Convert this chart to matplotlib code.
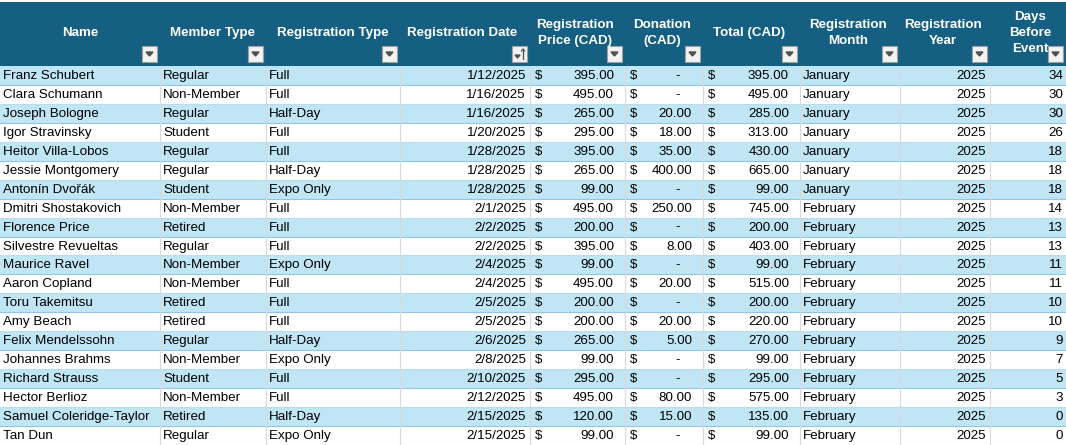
import matplotlib
matplotlib.use("Agg")
import matplotlib.pyplot as plt
from matplotlib.patches import Rectangle, Polygon

names = ["Franz Schubert","Clara Schumann","Joseph Bologne","Igor Stravinsky","Heitor Villa-Lobos",
         "Jessie Montgomery","Antonín Dvořák","Dmitri Shostakovich","Florence Price","Silvestre Revueltas",
         "Maurice Ravel","Aaron Copland","Toru Takemitsu","Amy Beach","Felix Mendelssohn",
         "Johannes Brahms","Richard Strauss","Hector Berlioz","Samuel Coleridge-Taylor","Tan Dun"]
member = ["Regular","Non-Member","Regular","Student","Regular","Regular","Student","Non-Member","Retired",
          "Regular","Non-Member","Non-Member","Retired","Retired","Regular","Non-Member","Student",
          "Non-Member","Retired","Regular"]
regtype = ["Full","Full","Half-Day","Full","Full","Half-Day","Expo Only","Full","Full","Full","Expo Only",
           "Full","Full","Full","Half-Day","Expo Only","Full","Full","Half-Day","Expo Only"]
dates = ["1/12/2025","1/16/2025","1/16/2025","1/20/2025","1/28/2025","1/28/2025","1/28/2025","2/1/2025",
         "2/2/2025","2/2/2025","2/4/2025","2/4/2025","2/5/2025","2/5/2025","2/6/2025","2/8/2025",
         "2/10/2025","2/12/2025","2/15/2025","2/15/2025"]
price = [395,495,265,295,395,265,99,495,200,395,99,495,200,200,265,99,295,495,120,99]
donation = [0,0,20,18,35,400,0,250,0,8,0,20,0,20,5,0,0,80,15,0]
total = [p + d for p, d in zip(price, donation)]
month = ["January"]*7 + ["February"]*13
year = [2025]*20
days = [34,30,30,26,18,18,18,14,13,13,11,11,10,10,9,7,5,3,0,0]
headers = ["Name","Member Type","Registration Type","Registration Date","Registration\nPrice (CAD)",
           "Donation\n(CAD)","Total (CAD)","Registration\nMonth","Registration\nYear","Days\nBefore\nEvent"]

edges = [0,160,266,400,530,625,703,800,900,990,1066]
HDR_TOP, HDR_BOT, RH = 2, 66, 18.95
HDR = "#156082"; LIGHT = "#C0E6F5"
FONT = "Liberation Sans"; FS = 9.6

fig = plt.figure(figsize=(10.66, 4.45), dpi=100)
ax = fig.add_axes([0, 0, 1, 1])
ax.set_xlim(0, 1066); ax.set_ylim(445, 0); ax.axis("off")

ax.add_patch(Rectangle((0, HDR_TOP), 1066, HDR_BOT - HDR_TOP, color=HDR, lw=0))
hx = [80, 213, 333, 462, 575, 662, 749, 848, 943, 1030]
for i, h in enumerate(headers):
    ax.text(hx[i], 33, h, color="white", fontweight="bold", fontsize=FS, family=FONT,
            ha="center", va="center", linespacing=1.45)
    bx = edges[i+1] - 18
    ax.add_patch(Rectangle((bx, 46), 15, 16, facecolor="#F2F2F2", edgecolor="#A0A0A0", lw=0.8))
    if i == 3:
        ax.add_patch(Polygon([(bx+3, 55), (bx+8, 55), (bx+5.5, 58)], color="#505050"))
        ax.plot([bx+11, bx+11], [49, 59], color="#505050", lw=0.9)
        ax.plot([bx+9.5, bx+11, bx+12.5], [51, 49, 51], color="#505050", lw=0.9)
    else:
        ax.add_patch(Polygon([(bx+4, 52), (bx+11, 52), (bx+7.5, 56)], color="#505050"))

def money(v):
    return "-" if v == 0 else f"{v:,.2f}"

for r in range(len(names)):
    top = HDR_BOT + r * RH
    cy = top + RH / 2 + 0.5
    if r % 2 == 0:
        ax.add_patch(Rectangle((0, top), 1066, RH, color=LIGHT, lw=0))
    ax.plot([0, 1066], [top + RH, top + RH], color="#8CC9E6" if r % 2 == 0 else "#B8DDEE", lw=0.8)
    kw = dict(fontsize=FS, family=FONT, va="center", color="black")
    ax.text(3, cy, names[r], ha="left", **kw)
    ax.text(163, cy, member[r], ha="left", **kw)
    ax.text(269, cy, regtype[r], ha="left", **kw)
    ax.text(526, cy, dates[r], ha="right", **kw)
    for c, v in ((4, price[r]), (5, donation[r]), (6, total[r])):
        ax.text(edges[c] + 5, cy, "$", ha="left", **kw)
        if v == 0:
            ax.text(edges[c+1] - 25, cy, "-", ha="center", **kw)
        else:
            ax.text(edges[c+1] - 11, cy, money(v), ha="right", **kw)
    ax.text(803, cy, month[r], ha="left", **kw)
    ax.text(986, cy, str(year[r]), ha="right", **kw)
    ax.text(1063, cy, str(days[r]), ha="right", **kw)

for x in edges[1:-1]:
    ax.plot([x, x], [HDR_BOT, 445], color="#D9D9D9", lw=0.8)

fig.savefig("out.png", dpi=100)
